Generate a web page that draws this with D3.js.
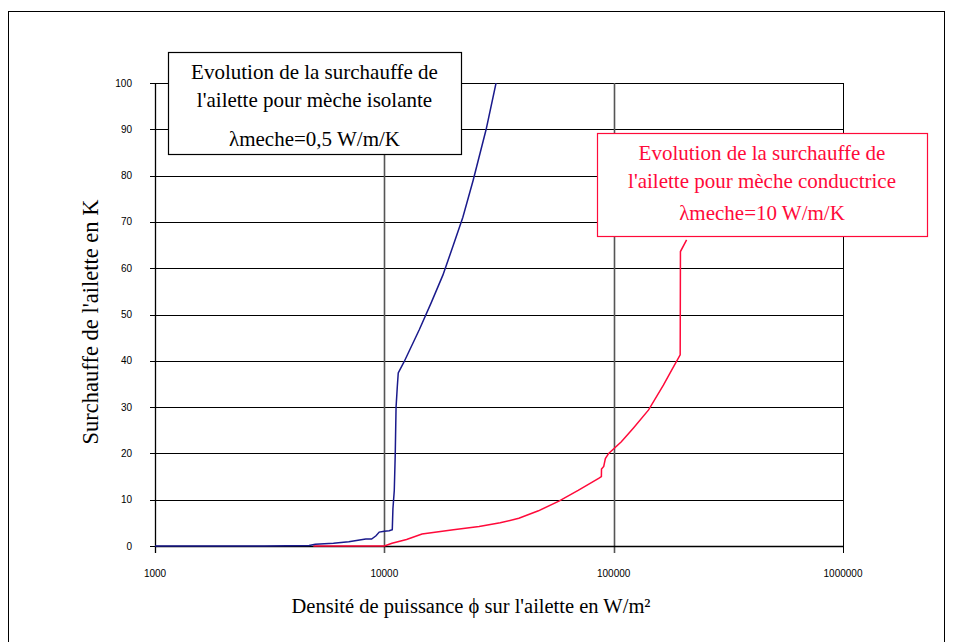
<!DOCTYPE html>
<html>
<head>
<meta charset="utf-8">
<script src="https://cdn.jsdelivr.net/npm/d3@7"></script>
<style>
  html, body { margin: 0; padding: 0; background: #fff; }
  svg { display: block; }
</style>
</head>
<body>
<svg id="chart" width="953" height="642"></svg>
<script>
// Heat flux density (W/m²) and fin superheat (K) for two wick conductivities
const xTicks = [1000, 10000, 100000, 1000000];
const yTicks = [0, 10, 20, 30, 40, 50, 60, 70, 80, 90, 100];

const insulatingFlux = [1000, 3000, 4700, 5000, 6000, 7000, 7800, 8300, 8800, 9200, 9500, 10000, 10500, 10830, 10900, 11050, 11160, 11250, 11390, 11500, 12200, 14200, 16000, 18000, 20000, 22000, 24400, 27800, 30700];
const insulatingSuperheat = [0, 0, 0.1, 0.4, 0.6, 0.9, 1.3, 1.5, 1.5, 2.2, 3.0, 3.2, 3.3, 3.5, 8, 12, 20, 30, 34.4, 37.4, 39.8, 46.7, 52.5, 58.5, 65, 71, 79, 90, 100];

const conductiveFlux = [4900, 7000, 10000, 10800, 12500, 14600, 20000, 25900, 32000, 38600, 47000, 57700, 70000, 86000, 88400, 88500, 90500, 92000, 95100, 108000, 122000, 142000, 165000, 179000, 195000, 195500, 208000];
const conductiveSuperheat = [0, 0, 0, 0.6, 1.4, 2.6, 3.5, 4.2, 5.0, 6.0, 7.6, 9.7, 12, 14.6, 15, 16.6, 17.2, 18.9, 20, 22.5, 25.5, 29.4, 34.8, 38, 41.3, 63.6, 66.1];

const insulatingNote = ["Evolution de la surchauffe de", "l'ailette pour mèche isolante", "λmeche=0,5 W/m/K"];
const conductiveNote = ["Evolution de la surchauffe de", "l'ailette pour mèche conductrice", "λmeche=10 W/m/K"];

const svg = d3.select("#chart");
const plotLeft = 155, plotRight = 843, plotTop = 83, plotBottom = 546;
const serif = "'Liberation Serif', 'Times New Roman', serif";
const sans = "'Liberation Sans', Arial, sans-serif";

const x = d3.scaleLog().domain([1000, 1000000]).range([plotLeft, plotRight]);
const y = d3.scaleLinear().domain([0, 100]).range([plotBottom, plotTop]);

// outer frame
svg.append("rect")
  .attr("x", 8.5).attr("y", 11.5).attr("width", 936).attr("height", 700)
  .attr("fill", "none").attr("stroke", "#000").attr("stroke-width", 1);

// horizontal grid
svg.append("g").selectAll("line").data(yTicks).join("line")
  .attr("x1", plotLeft - 5).attr("x2", plotRight)
  .attr("y1", d => Math.round(y(d)) + 0.5).attr("y2", d => Math.round(y(d)) + 0.5)
  .attr("stroke", "#000").attr("stroke-width", 1);

// vertical grid
svg.append("g").selectAll("line").data(xTicks.slice(1)).join("line")
  .attr("x1", d => Math.round(x(d)) + 0.5).attr("x2", d => Math.round(x(d)) + 0.5)
  .attr("y1", plotTop).attr("y2", plotBottom + 7)
  .attr("stroke", d => d === 1000000 ? "#000" : "#555").attr("stroke-width", d => d === 1000000 ? 1 : 1.6);

// y axis line and x baseline
svg.append("line").attr("x1", plotLeft + 0.5).attr("x2", plotLeft + 0.5).attr("y1", plotTop).attr("y2", plotBottom + 7)
  .attr("stroke", "#000").attr("stroke-width", 1.3);
svg.append("line").attr("x1", plotLeft).attr("x2", plotRight).attr("y1", plotBottom + 0.5).attr("y2", plotBottom + 0.5)
  .attr("stroke", "#000").attr("stroke-width", 1.5);

// tick labels
svg.append("g").selectAll("text").data(yTicks).join("text")
  .attr("x", 132).attr("y", d => y(d) + 3.5)
  .attr("text-anchor", "end")
  .attr("font-family", sans).attr("font-size", 10)
  .text(d => d);
svg.append("g").selectAll("text").data(xTicks).join("text")
  .attr("x", d => x(d)).attr("y", 577)
  .attr("text-anchor", "middle")
  .attr("font-family", sans).attr("font-size", 10)
  .text(d => d);

// axis titles
svg.append("text")
  .attr("transform", "translate(98,322) rotate(-90)")
  .attr("text-anchor", "middle")
  .attr("font-family", serif).attr("font-size", 22.5)
  .text("Surchauffe de l'ailette en K");
svg.append("text")
  .attr("x", 471).attr("y", 613)
  .attr("text-anchor", "middle")
  .attr("font-family", serif).attr("font-size", 20.5)
  .text("Densité de puissance ϕ sur l'ailette en W/m²");

// curves
svg.append("clipPath").attr("id", "plot")
  .append("rect").attr("x", plotLeft).attr("y", plotTop).attr("width", plotRight - plotLeft).attr("height", plotBottom - plotTop + 2);

const line = d3.line().x(d => x(d[0])).y(d => y(d[1]));

svg.append("path")
  .datum(d3.zip(conductiveFlux, conductiveSuperheat))
  .attr("clip-path", "url(#plot)")
  .attr("d", line).attr("fill", "none")
  .attr("stroke", "#ff0a3a").attr("stroke-width", 1.5);

svg.append("path")
  .datum(d3.zip(insulatingFlux, insulatingSuperheat))
  .attr("clip-path", "url(#plot)")
  .attr("d", line).attr("fill", "none")
  .attr("stroke", "#1a1a8c").attr("stroke-width", 1.5);

// annotation boxes
function note(lines, bx, by, bw, bh, color, rows) {
  const g = svg.append("g");
  g.append("rect").attr("x", bx + 0.5).attr("y", by + 0.5).attr("width", bw).attr("height", bh)
    .attr("fill", "#fff").attr("stroke", color).attr("stroke-width", 1.2);
  g.selectAll("text").data(lines).join("text")
    .attr("x", bx + bw / 2).attr("y", (d, i) => rows[i])
    .attr("text-anchor", "middle")
    .attr("font-family", serif).attr("font-size", 21)
    .attr("fill", color)
    .text(d => d);
}
note(insulatingNote, 168, 52, 293, 102, "#000", [79, 107, 146]);
note(conductiveNote, 597, 133, 330, 103, "#ff0a3a", [160, 188, 220]);
</script>
</body>
</html>
